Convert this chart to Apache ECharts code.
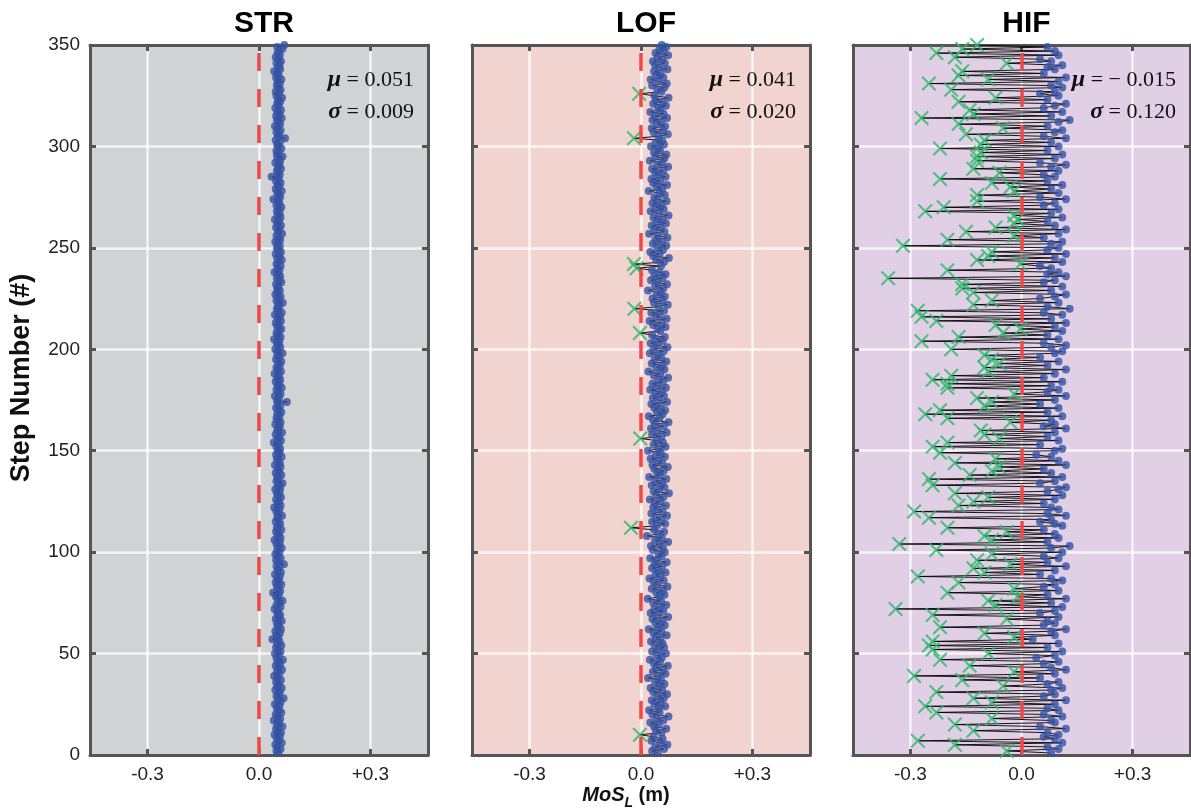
<!DOCTYPE html>
<html>
<head>
<meta charset="utf-8">
<title>MoS_L per step</title>
<script src="https://cdn.jsdelivr.net/npm/echarts@6/dist/echarts.min.js"></script>
<style>
  html, body { margin: 0; padding: 0; background: #fff; }
  #chart { width: 1191px; height: 810px; }
</style>
</head>
<body>
<div id="chart"></div>
<script>
// panel titles and stats text
const panelNames = ['STR', 'LOF', 'HIF'];
const meanLabels = ['0.051', '0.041', '\u2212 0.015'];
const sdLabels = ['0.009', '0.020', '0.120'];
const xTicks = [-0.3, 0, 0.3];

// MoS_L (m) for steps 1..350
const strMos = [
  0.052, 0.047, 0.058, 0.050, 0.044, 0.061, 0.053, 0.048, 0.056, 0.042,
  0.059, 0.051, 0.046, 0.063, 0.049, 0.054, 0.040, 0.057, 0.050, 0.045,
  0.060, 0.053, 0.048, 0.055, 0.043, 0.058, 0.051, 0.066, 0.047, 0.052,
  0.056, 0.044, 0.061, 0.049, 0.054, 0.046, 0.059, 0.050, 0.041, 0.055,
  0.048, 0.062, 0.052, 0.045, 0.057, 0.050, 0.064, 0.047, 0.053, 0.043,
  0.058, 0.051, 0.046, 0.060, 0.049, 0.055, 0.036, 0.052, 0.047, 0.056,
  0.044, 0.059, 0.050, 0.054, 0.048, 0.061, 0.045, 0.053, 0.057, 0.049,
  0.051, 0.042, 0.058, 0.047, 0.055, 0.063, 0.050, 0.046, 0.054, 0.038,
  0.057, 0.052, 0.048, 0.060, 0.045, 0.053, 0.049, 0.056, 0.043, 0.059,
  0.050, 0.054, 0.047, 0.067, 0.052, 0.046, 0.058, 0.051, 0.044, 0.055,
  0.049, 0.061, 0.053, 0.047, 0.056, 0.042, 0.058, 0.050, 0.054, 0.046,
  0.060, 0.048, 0.052, 0.057, 0.045, 0.053, 0.049, 0.062, 0.051, 0.047,
  0.055, 0.041, 0.058, 0.050, 0.054, 0.046, 0.059, 0.052, 0.048, 0.056,
  0.044, 0.057, 0.051, 0.063, 0.047, 0.053, 0.049, 0.060, 0.045, 0.054,
  0.050, 0.058, 0.043, 0.056, 0.052, 0.048, 0.061, 0.046, 0.055, 0.051,
  0.057, 0.047, 0.053, 0.040, 0.059, 0.050, 0.054, 0.045, 0.062, 0.049,
  0.052, 0.056, 0.044, 0.058, 0.051, 0.047, 0.055, 0.049, 0.060, 0.053,
  0.046, 0.057, 0.050, 0.075, 0.048, 0.054, 0.043, 0.058, 0.052, 0.047,
  0.061, 0.050, 0.055, 0.045, 0.057, 0.049, 0.053, 0.042, 0.059, 0.051,
  0.047, 0.056, 0.052, 0.060, 0.046, 0.054, 0.049, 0.063, 0.050, 0.044,
  0.057, 0.052, 0.048, 0.055, 0.041, 0.058, 0.051, 0.047, 0.054, 0.060,
  0.049, 0.053, 0.045, 0.059, 0.050, 0.056, 0.043, 0.061, 0.052, 0.048,
  0.055, 0.051, 0.064, 0.047, 0.053, 0.058, 0.044, 0.050, 0.056, 0.049,
  0.052, 0.046, 0.060, 0.054, 0.048, 0.057, 0.051, 0.042, 0.055, 0.050,
  0.058, 0.047, 0.053, 0.061, 0.049, 0.055, 0.045, 0.059, 0.052, 0.048,
  0.056, 0.050, 0.044, 0.057, 0.053, 0.047, 0.062, 0.051, 0.055, 0.046,
  0.059, 0.049, 0.054, 0.043, 0.058, 0.050, 0.056, 0.048, 0.052, 0.060,
  0.047, 0.055, 0.051, 0.039, 0.057, 0.053, 0.049, 0.061, 0.045, 0.054,
  0.050, 0.058, 0.046, 0.053, 0.034, 0.056, 0.052, 0.048, 0.059, 0.051,
  0.055, 0.044, 0.057, 0.050, 0.063, 0.048, 0.053, 0.047, 0.060, 0.052,
  0.049, 0.056, 0.045, 0.070, 0.051, 0.054, 0.047, 0.058, 0.050, 0.043,
  0.057, 0.052, 0.048, 0.061, 0.046, 0.055, 0.050, 0.059, 0.044, 0.053,
  0.049, 0.057, 0.051, 0.062, 0.047, 0.054, 0.045, 0.058, 0.052, 0.048,
  0.056, 0.050, 0.060, 0.046, 0.053, 0.049, 0.041, 0.057, 0.051, 0.055,
  0.047, 0.059, 0.052, 0.045, 0.056, 0.050, 0.054, 0.063, 0.049, 0.068
];

const lofMos = [
  0.045, 0.030, 0.062, 0.038, 0.071, 0.052, 0.028, 0.058, 0.034, -0.003,
  0.055, 0.040, 0.068, 0.035, 0.048, 0.025, 0.060, 0.042, 0.074, 0.031,
  0.050, 0.022, 0.047, 0.065, 0.036, 0.053, 0.029, 0.061, 0.044, 0.070,
  0.033, 0.057, 0.026, 0.049, 0.063, 0.038, 0.054, 0.019, 0.046, 0.066,
  0.032, 0.059, 0.041, 0.072, 0.035, 0.051, 0.024, 0.056, 0.043, 0.067,
  0.030, 0.048, 0.062, 0.037, 0.058, 0.027, 0.052, 0.040, 0.069, 0.034,
  0.055, 0.021, 0.047, 0.064, 0.039, 0.057, 0.031, 0.073, 0.045, 0.026,
  0.060, 0.036, 0.050, 0.068, 0.033, 0.054, 0.018, 0.049, 0.063, 0.041,
  0.058, 0.029, 0.071, 0.044, 0.035, 0.061, 0.023, 0.052, 0.039, 0.066,
  0.046, 0.030, 0.057, 0.037, 0.069, 0.042, 0.025, 0.055, 0.048, 0.064,
  0.032, 0.059, 0.027, 0.050, 0.073, 0.038, 0.056, 0.016, 0.047, 0.062,
  0.035, -0.027, 0.043, 0.065, 0.030, 0.054, 0.040, 0.070, 0.028, 0.058,
  0.045, 0.033, 0.067, 0.037, 0.052, 0.024, 0.060, 0.041, 0.075, 0.034,
  0.049, 0.063, 0.029, 0.056, 0.039, 0.068, 0.022, 0.051, 0.044, 0.061,
  0.036, 0.072, 0.031, 0.057, 0.046, 0.026, 0.064, 0.040, 0.053, 0.019,
  0.048, 0.066, 0.034, 0.059, 0.042, -0.002, 0.055, 0.030, 0.069, 0.045,
  0.027, 0.061, 0.038, 0.074, 0.033, 0.050, 0.021, 0.058, 0.043, 0.065,
  0.036, 0.053, 0.028, 0.070, 0.047, 0.032, 0.062, 0.039, 0.056, 0.025,
  0.067, 0.044, 0.031, 0.059, 0.048, 0.073, 0.035, 0.052, 0.020, 0.063,
  0.041, 0.057, 0.029, 0.068, 0.037, 0.054, 0.046, 0.024, 0.061, 0.034,
  0.071, 0.043, 0.026, 0.058, 0.039, 0.064, 0.030, -0.003, 0.052, 0.045,
  0.066, 0.033, 0.055, 0.023, 0.069, 0.040, 0.050, 0.028, 0.062, -0.018,
  0.047, 0.072, 0.035, 0.057, 0.031, 0.064, 0.042, 0.053, 0.019, 0.060,
  0.038, 0.070, 0.045, 0.027, 0.058, 0.036, 0.066, 0.049, 0.030, -0.012,
  0.054, -0.019, 0.062, 0.041, 0.075, 0.033, 0.050, 0.025, 0.059, 0.044,
  0.068, 0.032, 0.056, 0.039, 0.071, 0.046, 0.022, 0.063, 0.037, 0.053,
  0.029, 0.067, 0.043, 0.058, 0.034, 0.074, 0.048, 0.026, 0.061, 0.040,
  0.055, 0.031, 0.069, 0.045, 0.036, 0.064, 0.050, 0.021, 0.057, 0.042,
  0.070, 0.033, 0.052, 0.028, 0.066, 0.047, 0.038, 0.060, 0.030, 0.073,
  0.044, 0.056, 0.024, 0.063, 0.039, 0.068, 0.035, 0.051, 0.046, 0.027,
  0.062, 0.040, 0.057, -0.019, 0.048, 0.072, 0.034, 0.059, 0.029, 0.065,
  0.043, 0.054, 0.031, 0.070, 0.038, 0.061, 0.025, 0.052, 0.046, 0.067,
  0.033, 0.058, 0.040, 0.074, 0.036, -0.005, 0.055, 0.044, 0.063, 0.030,
  0.069, 0.047, 0.026, 0.060, 0.041, 0.053, 0.035, 0.071, 0.049, 0.038,
  0.064, 0.032, 0.057, 0.045, 0.073, 0.039, 0.061, 0.050, 0.068, 0.056
];

const hifMos = [
  0.08, -0.04, 0.10, 0.07, -0.18, 0.11, -0.28, 0.09, 0.06, 0.10,
  0.07, -0.13, 0.12, 0.05, -0.18, 0.09, 0.08, -0.08, 0.11, 0.06,
  -0.23, 0.10, 0.07, -0.26, 0.09, -0.08, 0.12, -0.13, 0.06, 0.09,
  -0.23, 0.08, 0.11, -0.05, 0.07, 0.10, -0.16, 0.05, -0.29, 0.09,
  -0.02, 0.12, 0.08, -0.14, 0.06, 0.10, -0.22, 0.04, 0.09, -0.09,
  0.11, -0.24, 0.07, -0.25, 0.10, -0.24, 0.03, -0.02, 0.09, -0.10,
  0.08, 0.12, -0.22, 0.06, 0.09, 0.07, -0.04, 0.10, -0.24, 0.05,
  0.09, -0.34, 0.11, -0.07, 0.08, -0.09, 0.12, -0.01, 0.07, -0.20,
  0.10, -0.02, 0.06, 0.09, -0.17, 0.11, 0.08, -0.28, 0.05, -0.10,
  0.09, -0.13, 0.12, -0.03, 0.07, -0.12, 0.10, 0.06, -0.08, 0.11,
  -0.23, 0.08, 0.13, -0.33, 0.07, -0.08, 0.10, -0.10, 0.09, -0.04,
  0.06, -0.20, 0.11, 0.09, 0.05, 0.08, -0.25, 0.12, 0.07, -0.29,
  0.10, 0.08, -0.17, 0.06, -0.13, 0.09, -0.09, 0.11, -0.18, 0.07,
  0.10, 0.12, -0.24, 0.05, 0.09, -0.25, 0.11, -0.14, 0.08, -0.08,
  0.06, -0.06, 0.12, -0.18, 0.10, -0.07, 0.08, 0.04, -0.22, 0.09,
  0.11, -0.24, 0.05, -0.20, 0.10, -0.06, 0.07, -0.10, 0.09, -0.11,
  0.12, 0.06, 0.09, -0.03, 0.08, -0.20, 0.11, -0.26, 0.07, -0.22,
  0.10, -0.10, 0.05, -0.08, 0.09, -0.12, 0.12, -0.02, 0.07, 0.10,
  -0.20, 0.08, -0.20, 0.11, -0.24, 0.06, -0.19, 0.09, -0.09, 0.12,
  -0.10, 0.07, -0.06, 0.10, -0.08, 0.05, -0.10, 0.09, 0.11, -0.19,
  0.08, 0.12, 0.06, -0.27, 0.10, -0.17, 0.07, -0.05, 0.11, -0.003,
  0.09, -0.07, 0.12, -0.23, 0.08, -0.27, 0.11, 0.06, -0.28, 0.13,
  0.07, -0.13, 0.10, -0.08, 0.05, 0.09, 0.12, -0.13, 0.08, -0.16,
  0.11, -0.16, 0.06, 0.09, -0.36, 0.12, 0.07, 0.10, -0.20, 0.08,
  0.05, -0.003, 0.11, -0.12, 0.09, -0.09, 0.12, -0.08, 0.07, 0.10,
  -0.32, 0.08, 0.11, -0.20, 0.06, -0.02, 0.10, -0.15, 0.12, -0.07,
  0.09, -0.02, 0.07, -0.01, 0.11, -0.02, 0.08, -0.26, 0.10, -0.21,
  0.06, 0.09, -0.12, 0.12, 0.05, -0.12, 0.10, -0.02, 0.08, -0.03,
  0.11, -0.08, 0.07, -0.22, 0.09, 0.06, -0.06, 0.10, -0.13, 0.08,
  0.12, 0.05, -0.12, 0.09, -0.12, 0.11, -0.11, 0.07, -0.22, 0.10,
  -0.11, 0.08, -0.10, 0.12, 0.06, -0.15, 0.09, 0.11, -0.05, 0.07,
  -0.17, 0.10, 0.13, -0.27, 0.08, -0.13, 0.11, -0.14, 0.06, 0.09,
  0.12, -0.17, 0.07, -0.07, 0.10, 0.05, 0.09, -0.19, 0.11, 0.08,
  -0.25, 0.10, -0.09, 0.12, -0.17, 0.06, -0.16, 0.09, 0.07, 0.11,
  -0.04, 0.08, 0.05, -0.18, 0.10, -0.23, 0.09, -0.16, 0.07, -0.12
];

const panelData = [strMos, lofMos, hifMos];
const panelLeft = [90, 472, 853];
const panelWidth = [338, 338, 337];
const panelBg = ['#d1d2d4', '#f1d3d0', '#e1d0e5'];

const sansFont = '"Liberation Sans", Arial, sans-serif';
const serifFont = '"Liberation Serif", "Times New Roman", serif';
const crossPath = 'path://M0,2L2,0L10,8L18,0L20,2L12,10L20,18L18,20L10,12L2,20L0,18L8,10Z';
const frameLine = { show: true, onZero: false, lineStyle: { color: '#555', width: 3 } };
const tickStyle = { color: '#555', width: 3 };
const gridLineStyle = { color: 'rgba(255,255,255,0.75)', width: 2.5 };

const chart = echarts.init(document.getElementById('chart'), null, { renderer: 'canvas' });

const grid = [];
const xAxis = [];
const yAxis = [];
const series = [];
const title = [];
const graphic = [];

panelData.forEach((vals, i) => {
  grid.push({
    left: panelLeft[i], top: 45, width: panelWidth[i], height: 710,
    show: true, backgroundColor: panelBg[i], borderWidth: 0
  });

  // bottom x axis (labels + split lines) and a bare top one for the frame/ticks
  xAxis.push({
    type: 'value', gridIndex: i, position: 'bottom', min: -0.455, max: 0.455,
    axisLine: frameLine,
    axisTick: { show: true, inside: true, length: 6, lineStyle: tickStyle, customValues: xTicks },
    axisLabel: {
      customValues: xTicks, margin: 10, fontSize: 19, color: '#222', fontFamily: sansFont,
      formatter: v => (v === 0 ? '0.0' : (v > 0 ? '+' : '') + v.toFixed(1))
    },
    splitLine: { show: true, lineStyle: gridLineStyle }
  });
  xAxis.push({
    type: 'value', gridIndex: i, position: 'top', min: -0.455, max: 0.455,
    axisLine: frameLine,
    axisTick: { show: true, inside: true, length: 6, lineStyle: tickStyle, customValues: xTicks },
    axisLabel: { show: false },
    splitLine: { show: false }
  });

  yAxis.push({
    type: 'value', gridIndex: i, position: 'left', min: 0, max: 350, interval: 50,
    axisLine: frameLine,
    axisTick: { show: true, inside: true, length: 6, lineStyle: tickStyle },
    axisLabel: { show: i === 0, margin: 10, fontSize: 19, color: '#222', fontFamily: sansFont },
    splitLine: { show: true, lineStyle: gridLineStyle }
  });
  yAxis.push({
    type: 'value', gridIndex: i, position: 'right', min: 0, max: 350, interval: 50,
    axisLine: frameLine,
    axisTick: { show: true, inside: true, length: 6, lineStyle: tickStyle },
    axisLabel: { show: false },
    splitLine: { show: false }
  });

  const pts = vals.map((v, k) => [v, k + 1]);

  // black path through the steps
  series.push({
    type: 'line', xAxisIndex: 2 * i, yAxisIndex: 2 * i, data: pts,
    symbol: 'none', showSymbol: false, z: 2,
    lineStyle: { color: '#000', width: 0.9 }
  });
  // red dashed zero line
  series.push({
    type: 'line', xAxisIndex: 2 * i, yAxisIndex: 2 * i, data: [], z: 3,
    markLine: {
      silent: true, symbol: 'none', label: { show: false },
      lineStyle: { color: '#ee4848', width: 3.5, type: [18, 18] },
      data: [{ xAxis: 0 }]
    }
  });
  // negative steps: green crosses
  series.push({
    type: 'scatter', xAxisIndex: 2 * i, yAxisIndex: 2 * i,
    data: pts.filter(p => p[0] < 0),
    symbol: crossPath, symbolSize: 15, z: 4,
    itemStyle: { color: '#2db86b' }
  });
  // positive steps: blue dots
  series.push({
    type: 'scatter', xAxisIndex: 2 * i, yAxisIndex: 2 * i,
    data: pts.filter(p => p[0] >= 0),
    symbol: 'circle', symbolSize: 8, z: 5,
    itemStyle: { color: '#3453a4' }
  });

  const cx = panelLeft[i] + panelWidth[i] / 2;
  title.push({
    text: panelNames[i], left: cx, top: 4, textAlign: 'center',
    textStyle: { fontSize: 30, fontWeight: 'bold', color: '#000', fontFamily: sansFont }
  });

  const rx = panelLeft[i] + panelWidth[i] - 14;
  const statRich = {
    g: { fontFamily: serifFont, fontSize: 24, fontWeight: 'bold', fontStyle: 'italic', fill: '#111' },
    n: { fontFamily: serifFont, fontSize: 22, fill: '#111' }
  };
  graphic.push({
    type: 'text', x: rx, y: 80, z: 10,
    style: { text: '{g|\u03bc}{n| = ' + meanLabels[i] + '}', rich: statRich, align: 'right', verticalAlign: 'middle' }
  });
  graphic.push({
    type: 'text', x: rx, y: 112, z: 10,
    style: { text: '{g|\u03c3}{n| = ' + sdLabels[i] + '}', rich: statRich, align: 'right', verticalAlign: 'middle' }
  });
});

// y axis title
graphic.push({
  type: 'text', x: 22, y: 378, rotation: Math.PI / 2, z: 10,
  style: {
    text: 'Step Number (#)', align: 'center', verticalAlign: 'middle',
    fontFamily: sansFont, fontSize: 27, fontWeight: 'bold', fill: '#111'
  }
});

// x axis title with subscript
graphic.push({
  type: 'text', x: 626, y: 795, z: 10,
  style: {
    text: '{a|MoS}{b|L}{c| (m)}',
    align: 'center', verticalAlign: 'middle',
    rich: {
      a: { fontFamily: sansFont, fontSize: 20, fontWeight: 'bold', fontStyle: 'italic', fill: '#111', lineHeight: 30, verticalAlign: 'middle' },
      b: { fontFamily: sansFont, fontSize: 14, fontWeight: 'bold', fontStyle: 'italic', fill: '#111', lineHeight: 30, verticalAlign: 'bottom' },
      c: { fontFamily: sansFont, fontSize: 20, fontWeight: 'bold', fill: '#111', lineHeight: 30, verticalAlign: 'middle' }
    }
  }
});

chart.setOption({
  animation: false,
  backgroundColor: '#ffffff',
  title,
  grid,
  xAxis,
  yAxis,
  series,
  graphic
});
</script>
</body>
</html>
